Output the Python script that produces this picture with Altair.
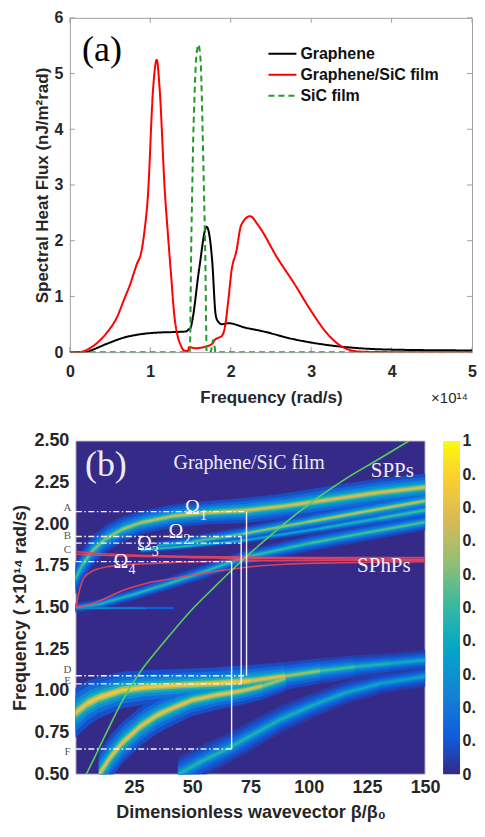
import altair as alt
import pandas as pd

# ================= Panel (a): spectral heat flux =================
series_names = ["Graphene", "Graphene/SiC film", "SiC film"]

graphene_f = [0.0, 0.2, 0.26, 0.46, 0.67, 0.87, 1.08, 1.28, 1.44, 1.48, 1.50, 1.52, 1.61, 1.70,
              1.77, 1.81, 1.83, 1.89, 1.97, 2.18, 2.38, 2.79, 3.19, 3.6, 4.0, 5.0]
graphene_v = [0.0, 0.0, 0.03, 0.15, 0.26, 0.32, 0.35, 0.36, 0.37, 0.41, 0.43, 0.55, 1.52, 2.25,
              1.63, 0.70, 0.58, 0.50, 0.52, 0.44, 0.38, 0.23, 0.13, 0.07, 0.045, 0.03]

hybrid_f = [0.0, 0.1, 0.3, 0.46, 0.59, 0.67, 0.75, 0.83, 0.89, 0.93, 0.97, 1.035, 1.08, 1.116,
            1.18, 1.22, 1.26, 1.30, 1.34, 1.38, 1.42, 1.47, 1.48, 1.56, 1.69, 1.77, 1.81, 1.85,
            1.89, 1.93, 1.97, 2.01, 2.07, 2.13, 2.24, 2.34, 2.58, 2.79, 2.99, 3.19, 3.36, 3.6,
            4.0, 5.0]
hybrid_v = [0.0, 0.0, 0.12, 0.35, 0.64, 0.93, 1.22, 1.57, 1.81, 2.2, 2.8, 4.73, 5.25, 4.73,
            2.9, 2.1, 1.35, 0.64, 0.29, 0.12, 0.03, 0.02, 0.09, 0.07, 0.10, 0.15, 0.23, 0.26,
            0.29, 0.47, 0.93, 1.46, 1.81, 2.28, 2.44, 2.28, 1.69, 1.23, 0.76, 0.35, 0.12, 0.01,
            0.0, 0.0]

sic_f = [0.0, 1.49, 1.497, 1.503, 1.51, 1.52, 1.535, 1.55, 1.565, 1.585, 1.60, 1.615, 1.63,
         1.65, 1.667, 1.685, 1.695, 1.70, 1.75, 1.765, 1.78, 1.795, 1.81, 5.0]
sic_v = [0.0, 0.0, 0.3, 1.2, 2.0, 2.8, 3.9, 4.6, 5.15, 5.45, 5.52, 5.4, 5.1,
         4.0, 2.9, 1.6, 0.4, 0.0, 0.0, 0.1, 0.22, 0.15, 0.0, 0.0]

a_xticks = [0, 1, 2, 3, 4, 5]
a_yticks = [0, 1, 2, 3, 4, 5, 6]

a_panel_label = ["(a)"]
a_panel_f = [0.4]
a_panel_v = [5.42]
a_exp_label = ["×10¹⁴"]
a_exp_f = [4.72]
a_exp_v = [-0.83]

# ================= Panel (b): dispersion map =================
# bright resonance bands: wavevector, centre frequency, half width, peak intensity
u1_beta = [0, 3, 7, 13, 20, 28, 42, 57, 73, 90, 110, 130, 150]
u1_omega = [1.68, 1.76, 1.84, 1.915, 1.97, 2.01, 2.05, 2.07, 2.083, 2.11, 2.15, 2.19, 2.222]
u1_hw = [0.07, 0.07, 0.065, 0.06, 0.055, 0.05, 0.05, 0.05, 0.055, 0.055, 0.06, 0.06, 0.06]
u1_peak = [0.5, 0.55, 0.6, 0.62, 0.65, 0.7, 0.72, 0.75, 0.76, 0.76, 0.76, 0.76, 0.76]

u2_beta = [35, 50, 72, 100, 125, 150]
u2_omega = [1.87, 1.895, 1.943, 2.015, 2.078, 2.14]
u2_hw = [0.02, 0.025, 0.03, 0.035, 0.04, 0.04]
u2_peak = [0.35, 0.5, 0.62, 0.7, 0.72, 0.72]

u3_beta = [28, 50, 73, 105, 130, 150]
u3_omega = [1.845, 1.872, 1.905, 1.975, 2.035, 2.084]
u3_hw = [0.012, 0.012, 0.012, 0.02, 0.03, 0.035]
u3_peak = [0.55, 0.5, 0.4, 0.4, 0.5, 0.55]

u4_beta = [0, 10, 25, 40, 55, 72, 100, 125, 150]
u4_omega = [1.50, 1.52, 1.58, 1.645, 1.715, 1.80, 1.885, 1.95, 2.013]
u4_hw = [0.02, 0.022, 0.025, 0.027, 0.03, 0.03, 0.035, 0.035, 0.035]
u4_peak = [0.45, 0.45, 0.48, 0.5, 0.5, 0.5, 0.52, 0.55, 0.55]

u5_beta = [0, 15, 30, 42]
u5_omega = [1.497, 1.497, 1.497, 1.497]
u5_hw = [0.007, 0.007, 0.007, 0.007]
u5_peak = [0.32, 0.28, 0.2, 0.1]

l1_beta = [0, 5, 10, 20, 30, 45, 60, 75, 90, 105, 120, 135, 150]
l1_omega = [0.87, 0.925, 0.96, 1.005, 1.022, 1.035, 1.045, 1.06, 1.09, 1.12, 1.145, 1.165, 1.185]
l1_hw = [0.11, 0.1, 0.09, 0.08, 0.075, 0.07, 0.07, 0.07, 0.06, 0.055, 0.05, 0.045, 0.045]
l1_peak = [0.8, 0.82, 0.85, 0.85, 0.85, 0.85, 0.85, 0.85, 0.72, 0.58, 0.48, 0.42, 0.4]

l2_beta = [10, 15, 20, 28, 35, 42, 50, 60, 71, 80, 90]
l2_omega = [0.5, 0.605, 0.69, 0.79, 0.855, 0.9, 0.945, 0.975, 1.0, 1.03, 1.075]
l2_hw = [0.1, 0.095, 0.09, 0.085, 0.08, 0.075, 0.07, 0.065, 0.06, 0.06, 0.055]
l2_peak = [0.8, 0.8, 0.8, 0.8, 0.8, 0.8, 0.8, 0.8, 0.8, 0.75, 0.6]

l3_beta = [44, 55, 66, 75, 88, 102, 116, 131, 150]
l3_omega = [0.5, 0.585, 0.66, 0.73, 0.83, 0.915, 0.99, 1.045, 1.087]
l3_hw = [0.075, 0.07, 0.065, 0.065, 0.06, 0.055, 0.05, 0.045, 0.045]
l3_peak = [0.45, 0.45, 0.45, 0.45, 0.43, 0.42, 0.4, 0.38, 0.36]

# SPhP (red) curves
r1_beta = [0, 10, 25, 50, 72, 100, 150]
r1_omega = [1.835, 1.825, 1.815, 1.807, 1.803, 1.80, 1.80]
r2_beta = [0, 20, 50, 72, 150]
r2_omega = [1.82, 1.81, 1.80, 1.795, 1.79]
r3_beta = [0, 1.5, 3.3, 6, 9, 13.4, 20, 27.8, 40, 60, 80, 150]
r3_omega = [1.5, 1.6, 1.675, 1.71, 1.73, 1.745, 1.755, 1.762, 1.77, 1.777, 1.781, 1.785]
r4_beta = [0, 5, 10, 20.6, 30, 42.2, 52, 63.8, 75, 90, 110, 150]
r4_omega = [1.5, 1.515, 1.54, 1.605, 1.645, 1.675, 1.70, 1.725, 1.745, 1.76, 1.768, 1.775]

# SPP light line
spp_beta = [4.5, 8, 13.4, 20.6, 27.8, 35, 42.2, 50, 60, 72, 85, 95, 105, 116, 130, 143]
spp_omega = [0.5, 0.6, 0.757, 0.957, 1.117, 1.245, 1.366, 1.49, 1.63, 1.79, 1.95, 2.065,
             2.17, 2.274, 2.39, 2.5]

# guide lines
h_names = ["A", "B", "C", "Ω4", "D", "E", "F"]
h_omega = [2.076, 1.927, 1.887, 1.776, 1.091, 1.042, 0.651]
h_end = [73.3, 71.0, 71.0, 66.9, 73.3, 71.0, 66.9]
v_beta = [73.3, 71.0, 66.9]
v_top = [2.076, 1.927, 1.776]
v_bottom = [1.091, 1.042, 0.651]

letter_text = ["A", "B", "C", "D", "E", "F"]
letter_omega = [2.095, 1.929, 1.845, 1.125, 1.06, 0.631]
letter_beta = [-3.6] * 6

omega_sym = ["Ω", "Ω", "Ω", "Ω"]
omega_sub = ["1", "2", "3", "4"]
omega_beta = [50.1, 43.0, 29.4, 19.4]
omega_w = [2.10, 1.951, 1.881, 1.772]

b_text = ["(b)", "Graphene/SiC film", "SPPs", "SPhPs"]
b_text_beta = [12.9, 74.4, 135.9, 132.3]
b_text_w = [2.357, 2.367, 2.317, 1.752]
b_text_size = [36, 20, 21, 21]

b_xdom = [0, 150]
b_ydom = [0.5, 2.5]
b_background_level = [0.0]
b_xticks = [25, 50, 75, 100, 125, 150]
b_yticks = [0.5, 0.75, 1.0, 1.25, 1.5, 1.75, 2.0, 2.25, 2.5]
cbar_range = [0.0, 1.0]
cbar_values = [0, 0.1, 0.2, 0.3, 0.4, 0.5, 0.6, 0.7, 0.8, 0.9, 1.0]

# parula colour map
parula_pos = [0, 0.111, 0.238, 0.381, 0.508, 0.635, 0.762, 0.889, 1.0]
parula_col = ["#352a87", "#0f5cdd", "#1481d6", "#06a7c6", "#38b99e",
              "#92bf73", "#d9ba56", "#fcce2e", "#f9fb0e"]

# glow levels (fraction of half width, fraction of peak)
level_k = [1.35, 1.0, 0.7, 0.45, 0.25, 0.1]
level_f = [0.1, 0.2, 0.33, 0.5, 0.75, 1.0]

FONT = "Liberation Sans"
SERIF = "Liberation Serif"
TXT = "#262626"
FRAME = "#a0a0a0"
WA, HA = 403, 335
WB, HB = 356, 334

# ---------------- build panel (a) ----------------
df_a = pd.concat([
    pd.DataFrame({"f": graphene_f, "v": graphene_v, "series": series_names[0]}),
    pd.DataFrame({"f": hybrid_f, "v": hybrid_v, "series": series_names[1]}),
    pd.DataFrame({"f": sic_f, "v": sic_v, "series": series_names[2]}),
], ignore_index=True)

xs_a = alt.Scale(domain=[0, 5], nice=False, zero=False)
ys_a = alt.Scale(domain=[0, 6], nice=False, zero=False)

leg_a = alt.Legend(title=None, orient="none", legendX=198, legendY=28,
                   symbolType="stroke", symbolSize=784, symbolStrokeWidth=2,
                   labelFont=FONT, labelFontSize=16, labelFontWeight="bold",
                   labelColor="#111111", rowPadding=5, labelOffset=3, clipHeight=16)

lines_a = alt.Chart(df_a).mark_line(strokeWidth=2, clip=True, interpolate="monotone").encode(
    x=alt.X("f:Q", scale=xs_a,
            axis=alt.Axis(values=a_xticks, format="d", title="Frequency (rad/s)",
                          labelFontSize=16, titleFontSize=17, labelFlush=False,
                          labelPadding=11, titlePadding=10)),
    y=alt.Y("v:Q", scale=ys_a,
            axis=alt.Axis(values=a_yticks, format="d",
                          title="Spectral Heat Flux (nJ/m²rad)",
                          labelFontSize=16, titleFontSize=17,
                          labelPadding=7, titlePadding=3)),
    color=alt.Color("series:N", scale=alt.Scale(domain=series_names,
                    range=["#000000", "#ff0000", "#22992a"]), legend=leg_a),
    strokeDash=alt.StrokeDash("series:N", scale=alt.Scale(domain=series_names,
                              range=[[1, 0], [1, 0], [6, 4]]), legend=leg_a),
    order=alt.Order("series:N"),
)

xt_df = pd.DataFrame({"t": a_xticks})
yt_df = pd.DataFrame({"t": a_yticks})
tick_bot = alt.Chart(xt_df).mark_rule(color=FRAME).encode(
    x=alt.X("t:Q", scale=xs_a), y=alt.value(HA), y2=alt.value(HA - 5))
tick_top = alt.Chart(xt_df).mark_rule(color=FRAME).encode(
    x=alt.X("t:Q", scale=xs_a), y=alt.value(0), y2=alt.value(5))
tick_left = alt.Chart(yt_df).mark_rule(color=FRAME).encode(
    y=alt.Y("t:Q", scale=ys_a), x=alt.value(0), x2=alt.value(5))
tick_right = alt.Chart(yt_df).mark_rule(color=FRAME).encode(
    y=alt.Y("t:Q", scale=ys_a), x=alt.value(WA), x2=alt.value(WA - 5))

lab_a = alt.Chart(pd.DataFrame({"t": a_panel_label, "f": a_panel_f, "v": a_panel_v})).mark_text(
    font=SERIF, fontSize=36, color="#000000").encode(
    x=alt.X("f:Q", scale=xs_a), y=alt.Y("v:Q", scale=ys_a), text="t:N")
exp_a = alt.Chart(pd.DataFrame({"t": a_exp_label, "f": a_exp_f, "v": a_exp_v})).mark_text(
    font=FONT, fontSize=15, color=TXT).encode(
    x=alt.X("f:Q", scale=xs_a), y=alt.Y("v:Q", scale=ys_a), text="t:N")

panel_a = alt.layer(tick_bot, tick_top, tick_left, tick_right, lines_a, lab_a, exp_a).properties(
    width=WA, height=HA)

# ---------------- build panel (b) ----------------
def segments(name, beta, omega, hw, peak):
    rows = []
    for i in range(len(beta) - 1):
        pk = (peak[i] + peak[i + 1]) / 2
        for j in (i, i + 1):
            rows.append({"grp": f"{name}{i:02d}", "beta": beta[j], "omega": omega[j],
                         "hw": hw[j], "pk": pk})
    return rows

band_rows = []
band_rows += segments("L3", l3_beta, l3_omega, l3_hw, l3_peak)
band_rows += segments("L2", l2_beta, l2_omega, l2_hw, l2_peak)
band_rows += segments("L1", l1_beta, l1_omega, l1_hw, l1_peak)
band_rows += segments("U5", u5_beta, u5_omega, u5_hw, u5_peak)
band_rows += segments("U4", u4_beta, u4_omega, u4_hw, u4_peak)
band_rows += segments("U3", u3_beta, u3_omega, u3_hw, u3_peak)
band_rows += segments("U2", u2_beta, u2_omega, u2_hw, u2_peak)
band_rows += segments("U1", u1_beta, u1_omega, u1_hw, u1_peak)
bands_df = pd.DataFrame(band_rows)

xs_b = alt.Scale(domain=b_xdom, range=[6, WB], nice=False, zero=False)
ys_b = alt.Scale(domain=b_ydom, nice=False, zero=False)
par_scale = alt.Scale(domain=parula_pos, range=parula_col, interpolate="rgb")

bx_axis = alt.Axis(values=b_xticks, format="d", title="Dimensionless wavevector β/β₀",
                   labelFontSize=18, titleFontSize=18, labelFlush=False,
                   labelPadding=4, titlePadding=7, titleX=181)
by_axis = alt.Axis(values=b_yticks, format=".2f", title="Frequency ( ×10¹⁴ rad/s)",
                   labelFontSize=18, titleFontSize=18,
                   labelPadding=1, titlePadding=4)

bg = alt.Chart(pd.DataFrame({"x0": [b_xdom[0]], "x1": [b_xdom[1]],
                             "y0": [b_ydom[0]], "y1": [b_ydom[1]],
                             "lvl": b_background_level})).mark_rect(
    stroke="#cfcfcf", strokeWidth=1).encode(
    x=alt.X("x0:Q", scale=xs_b, axis=bx_axis), x2="x1:Q",
    y=alt.Y("y0:Q", scale=ys_b, axis=by_axis), y2="y1:Q",
    color=alt.Color("lvl:Q", scale=par_scale, legend=None))

level_layers = []
for idx, (k, fr) in enumerate(zip(level_k, level_f)):
    lay = alt.Chart(bands_df).transform_calculate(
        lo=f"datum.omega - {k} * datum.hw",
        hi=f"datum.omega + {k} * datum.hw",
        val=f"datum.pk * {fr}",
    ).mark_area(clip=True, strokeWidth=0.6).encode(
        x=alt.X("beta:Q", scale=xs_b),
        y=alt.Y("lo:Q", scale=ys_b),
        y2="hi:Q",
        detail="grp:N",
        color=alt.Color("val:Q", scale=par_scale, legend=None),
        stroke=alt.Stroke("val:Q", scale=par_scale, legend=None),
    )
    level_layers.append(lay)

red_df = pd.concat([
    pd.DataFrame({"beta": r1_beta, "omega": r1_omega, "c": "r1"}),
    pd.DataFrame({"beta": r2_beta, "omega": r2_omega, "c": "r2"}),
    pd.DataFrame({"beta": r3_beta, "omega": r3_omega, "c": "r3"}),
    pd.DataFrame({"beta": r4_beta, "omega": r4_omega, "c": "r4"}),
], ignore_index=True)
red_lines = alt.Chart(red_df).mark_line(color="#e8455f", strokeWidth=1.6, opacity=0.9,
                                        interpolate="monotone", clip=True).encode(
    x=alt.X("beta:Q", scale=xs_b), y=alt.Y("omega:Q", scale=ys_b), detail="c:N")

spp_line = alt.Chart(pd.DataFrame({"beta": spp_beta, "omega": spp_omega})).mark_line(
    color="#55d05a", strokeWidth=1.6, interpolate="monotone", clip=True).encode(
    x=alt.X("beta:Q", scale=xs_b), y=alt.Y("omega:Q", scale=ys_b))

h_df = pd.DataFrame({"n": h_names, "w": h_omega, "b1": h_end, "b0": [b_xdom[0]] * len(h_names)})
h_lines = alt.Chart(h_df).mark_rule(color="#f2f2ff", strokeWidth=1.4,
                                    strokeDash=[6, 2.5, 1.5, 2.5]).encode(
    x=alt.X("b0:Q", scale=xs_b), x2="b1:Q", y=alt.Y("w:Q", scale=ys_b))
v_df = pd.DataFrame({"b": v_beta, "t": v_top, "u": v_bottom})
v_lines = alt.Chart(v_df).mark_rule(color="#f2f2ff", strokeWidth=1.4).encode(
    x=alt.X("b:Q", scale=xs_b), y=alt.Y("t:Q", scale=ys_b), y2="u:Q")

letters = alt.Chart(pd.DataFrame({"t": letter_text, "b": letter_beta, "w": letter_omega})).mark_text(
    font=SERIF, fontSize=11, color="#555555").encode(
    x=alt.X("b:Q", scale=xs_b), y=alt.Y("w:Q", scale=ys_b), text="t:N")

om_df = pd.DataFrame({"s": omega_sym, "n": omega_sub, "b": omega_beta, "w": omega_w})
om_main = alt.Chart(om_df).mark_text(font=SERIF, fontSize=20, color="#f4f4ff").encode(
    x=alt.X("b:Q", scale=xs_b), y=alt.Y("w:Q", scale=ys_b), text="s:N")
om_sub = alt.Chart(om_df).mark_text(font=SERIF, fontSize=14, color="#f4f4ff", dx=11, dy=8).encode(
    x=alt.X("b:Q", scale=xs_b), y=alt.Y("w:Q", scale=ys_b), text="n:N")

bt_df = pd.DataFrame({"t": b_text, "b": b_text_beta, "w": b_text_w, "s": b_text_size})
b_texts = alt.Chart(bt_df).mark_text(font=SERIF, color="#ececf6").encode(
    x=alt.X("b:Q", scale=xs_b), y=alt.Y("w:Q", scale=ys_b), text="t:N",
    size=alt.Size("s:Q", scale=None, legend=None))

map_layers = alt.layer(bg, *level_layers, red_lines, spp_line, h_lines, v_lines,
                       letters, om_main, om_sub, b_texts)

# colour bar: one rect spanning the intensity range, filled with the parula ramp
cbar_fill = alt.Gradient(gradient="linear", x1=0, x2=0, y1=1, y2=0,
                         stops=[alt.GradientStop(offset=p, color=c)
                                for p, c in zip(parula_pos, parula_col)])
cbar = alt.Chart(pd.DataFrame({"lo": [cbar_range[0]], "hi": [cbar_range[1]]})).mark_rect(
    color=cbar_fill).encode(
    x=alt.value(374), x2=alt.value(391),
    y=alt.Y("lo:Q", scale=alt.Scale(domain=cbar_range, nice=False, zero=False),
            axis=alt.Axis(orient="right", values=cbar_values, title=None, offset=35,
                          labelPadding=2, labelFontSize=16, labelFlush=False,
                          labelExpr="datum.value == 0 ? '0' : datum.value == 1 ? '1' : '0.'")),
    y2="hi:Q")

panel_b = alt.layer(map_layers, cbar).resolve_scale(y="independent").properties(
    width=WB, height=HB, view=alt.ViewBackground(stroke="transparent"))

chart = alt.vconcat(panel_a, panel_b, spacing=89, bounds="flush").resolve_scale(
    color="independent", stroke="independent", strokeDash="independent"
).configure(font=FONT).configure_view(stroke=FRAME).configure_axis(
    labelFont=FONT, labelFontWeight="bold", labelColor=TXT,
    titleFont=FONT, titleFontWeight="bold", titleColor=TXT,
    grid=False, ticks=False, tickSize=0, domain=False
).properties(padding={"left": 3, "top": 0, "right": 0, "bottom": 0})

chart.save("out.html", embed_options={"renderer": "svg", "actions": False})
